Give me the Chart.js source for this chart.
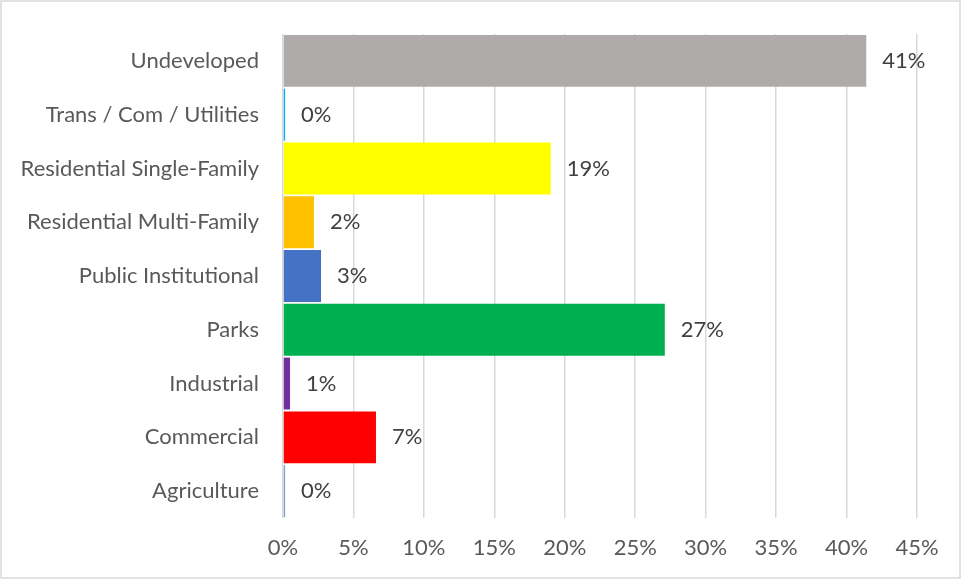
<!DOCTYPE html>
<html>
<head>
<meta charset="utf-8">
<script src="https://cdn.jsdelivr.net/npm/chart.js@4"></script>
<style>
  html, body { margin: 0; padding: 0; background: #fff; }
  #wrap { width: 961px; height: 580px; position: relative; }
</style>
</head>
<body>
<div id="wrap"><canvas id="landUseChart"></canvas></div>
<script>
const categories = [
    'Undeveloped',
    'Trans / Com / Utilities',
    'Residential Single-Family',
    'Residential Multi-Family',
    'Public Institutional',
    'Parks',
    'Industrial',
    'Commercial',
    'Agriculture'
];
const shares = [41.4, 0.15, 19.0, 2.2, 2.7, 27.1, 0.5, 6.6, 0.15];
const barColors = ['#AFABAB', '#00B0F0', '#FFFF00', '#FFC000', '#4472C4', '#00B050', '#7030A0', '#FF0000', '#7C9FD9'];
const xTicks = [0, 5, 10, 15, 20, 25, 30, 35, 40, 45];

const fontFamily = 'Lato, "Liberation Sans", sans-serif';
const fontSize = 22;

// labels at the end of each bar, like Excel's "outside end"
const barLabels = {
    id: 'barLabels',
    afterDatasetsDraw(chart) {
        const ctx = chart.ctx;
        const meta = chart.getDatasetMeta(0);
        ctx.save();
        ctx.font = fontSize + 'px ' + fontFamily;
        ctx.fillStyle = '#404040';
        ctx.textAlign = 'left';
        ctx.textBaseline = 'middle';
        meta.data.forEach((bar, i) => {
            ctx.fillText(Math.round(shares[i]) + '%', bar.x + 16, bar.y);
        });
        ctx.restore();
    }
};

const frame = {
    id: 'frame',
    afterDraw(chart) {
        const ctx = chart.ctx;
        ctx.save();
        ctx.strokeStyle = '#d9d9d9';
        ctx.lineWidth = 1.5;
        ctx.strokeRect(1, 1, chart.width - 2, chart.height - 3);
        ctx.restore();
    }
};

const ctx = document.getElementById('landUseChart').getContext('2d');
new Chart(ctx, {
    type: 'bar',
    data: {
        labels: categories,
        datasets: [{
            data: shares,
            backgroundColor: barColors,
            borderWidth: 0,
            barPercentage: 0.965,
            categoryPercentage: 1
        }]
    },
    options: {
        indexAxis: 'y',
        responsive: true,
        maintainAspectRatio: false,
        animation: false,
        layout: { padding: { top: 34, right: 44, left: 0, bottom: 0 } },
        plugins: {
            legend: { display: false },
            tooltip: { enabled: false }
        },
        scales: {
            x: {
                min: 0,
                max: 45,
                afterBuildTicks(scale) {
                    scale.ticks = xTicks.map(v => ({ value: v }));
                },
                afterFit(scale) { scale.height = 62; },
                grid: { color: '#d9d9d9', lineWidth: 1.5, drawTicks: false },
                border: { display: false },
                ticks: {
                    padding: 17,
                    color: '#595959',
                    font: { family: fontFamily, size: fontSize },
                    callback: v => v + '%'
                }
            },
            y: {
                afterFit(scale) {
                    scale.width = 283;
                    scale.paddingTop = 0;
                    scale.paddingBottom = 0;
                },
                grid: { display: false, drawTicks: false },
                border: { display: false },
                ticks: {
                    padding: 24,
                    color: '#595959',
                    font: { family: fontFamily, size: fontSize }
                }
            }
        }
    },
    plugins: [barLabels, frame]
});
</script>
</body>
</html>
